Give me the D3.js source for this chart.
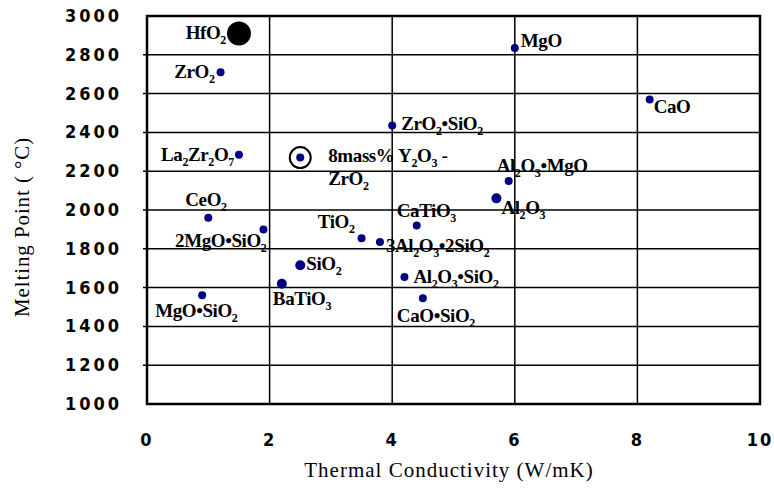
<!DOCTYPE html>
<html>
<head>
<meta charset="utf-8">
<script src="https://cdn.jsdelivr.net/npm/d3@7"></script>
<style>
  body { margin: 0; background: #fff; }
</style>
</head>
<body>
<div id="chart"></div>
<script>
// values
var materials = ["HfO_2", "ZrO_2", "ZrO_2•SiO_2", "La_2Zr_2O_7", "8mass% Y_2O_3 -|ZrO_2",
  "CeO_2", "2MgO•SiO_2", "TiO_2", "3Al_2O_3•2SiO_2", "SiO_2", "BaTiO_3", "MgO•SiO_2",
  "CaTiO_3", "Al_2O_3•SiO_2", "CaO•SiO_2", "Al_2O_3•MgO", "Al_2O_3", "MgO", "CaO"];
var conductivity = [1.5, 1.2, 4.0, 1.5, 2.5, 1.0, 1.9, 3.5, 3.8, 2.5, 2.2, 0.9,
  4.4, 4.2, 4.5, 5.9, 5.7, 6.0, 8.2];
var meltingPoint = [2910, 2710, 2435, 2285, 2270, 1960, 1900, 1855, 1835, 1715, 1620, 1560,
  1920, 1655, 1545, 2150, 2060, 2835, 2570];
var xTicks = [0, 2, 4, 6, 8, 10];
var yTicks = [1000, 1200, 1400, 1600, 1800, 2000, 2200, 2400, 2600, 2800, 3000];

var width = 774;
var height = 488;
var margin = { left: 147, top: 16, right: 14, bottom: 84 };

// label placement relative to each dot: [dx, dy, anchor]
var labelPos = [
  [-13, 6, "end"], [-6, 6, "end"], [9, 4, "start"], [-5, 6, "end"], [28, 4, "start"],
  [-23, -12, "start"], [3, 18, "end"], [-7, -10, "end"], [6, 10, "start"], [6, 5, "start"],
  [-9, 21, "start"], [-47, 22, "start"], [-20, -9, "start"], [9, 6, "start"], [-26, 24, "start"],
  [-12, -9, "start"], [5, 16, "start"], [6, -1, "start"], [4, 14, "start"]
];
var bigDots = ["SiO_2", "BaTiO_3", "Al_2O_3"];

var svg = d3
  .select("#chart")
  .append("svg")
  .attr("width", width)
  .attr("height", height);

var x = d3.scaleLinear().domain([0, 10]).range([margin.left, width - margin.right]);
var y = d3.scaleLinear().domain([1000, 3000]).range([height - margin.bottom, margin.top]);

// grid
svg.selectAll(".vgrid")
  .data(xTicks.slice(1, -1))
  .enter()
  .append("line")
  .attr("x1", (d) => x(d)).attr("x2", (d) => x(d))
  .attr("y1", y(1000)).attr("y2", y(3000))
  .style("stroke", "#000").style("stroke-width", 1.5);

svg.selectAll(".hgrid")
  .data(yTicks.slice(1, -1))
  .enter()
  .append("line")
  .attr("x1", x(0) - 4).attr("x2", x(10))
  .attr("y1", (d) => y(d)).attr("y2", (d) => y(d))
  .style("stroke", "#000").style("stroke-width", 1.5);

// frame
svg.append("rect")
  .attr("x", x(0)).attr("y", y(3000))
  .attr("width", x(10) - x(0)).attr("height", y(1000) - y(3000))
  .style("fill", "none").style("stroke", "#000").style("stroke-width", 2.5);

// tick labels
var tickFont = "'Liberation Sans Narrow', 'DejaVu Sans Condensed', 'Liberation Sans', sans-serif";
svg.selectAll(".ylab")
  .data(yTicks)
  .enter()
  .append("text")
  .attr("x", x(0) - 25)
  .attr("y", (d) => y(d) + 6)
  .attr("text-anchor", "end")
  .style("font-family", tickFont)
  .style("font-weight", "bold")
  .style("font-size", "18px")
  .style("letter-spacing", "3px")
  .text((d) => d);

svg.selectAll(".xlab")
  .data(xTicks)
  .enter()
  .append("text")
  .attr("x", (d) => x(d))
  .attr("y", 446)
  .attr("text-anchor", "middle")
  .style("font-family", tickFont)
  .style("font-weight", "bold")
  .style("font-size", "18px")
  .style("letter-spacing", "2px")
  .text((d) => d);

// axis titles
svg.append("text")
  .attr("x", 449)
  .attr("y", 477)
  .attr("text-anchor", "middle")
  .style("font-family", "'Liberation Serif', serif")
  .style("font-size", "21px")
  .style("letter-spacing", "1px")
  .text("Thermal Conductivity (W/mK)");

svg.append("text")
  .attr("transform", "translate(29,227) rotate(-90)")
  .attr("text-anchor", "middle")
  .style("font-family", "'Liberation Serif', serif")
  .style("font-size", "21px")
  .style("letter-spacing", "0.9px")
  .text("Melting Point ( °C)");

// HfO2 big marker, 8mass% ring
svg.append("circle")
  .attr("cx", x(conductivity[0])).attr("cy", y(meltingPoint[0]))
  .attr("r", 12).style("fill", "#000");

svg.append("circle")
  .attr("cx", x(conductivity[4])).attr("cy", y(meltingPoint[4]))
  .attr("r", 10.5).style("fill", "none").style("stroke", "#000").style("stroke-width", 2);

svg.selectAll(".dot")
  .data(d3.range(1, materials.length))
  .enter()
  .append("circle")
  .attr("cx", (i) => x(conductivity[i]))
  .attr("cy", (i) => y(meltingPoint[i]))
  .attr("r", (i) => (bigDots.indexOf(materials[i]) >= 0 ? 5 : 4))
  .style("fill", "#000080");

// labels with subscripts
function addLabel(i) {
  var px = x(conductivity[i]) + labelPos[i][0];
  var py = y(meltingPoint[i]) + labelPos[i][1];
  var lines = materials[i].split("|");
  lines.forEach(function (line, li) {
    var t = svg.append("text")
      .attr("x", px)
      .attr("y", py + li * 23)
      .attr("text-anchor", labelPos[i][2])
      .style("font-family", "'Liberation Serif', serif")
      .style("font-weight", "bold")
      .style("font-size", "19px")
      .style("letter-spacing", "-0.4px");
    var parts = line.split(/(_\d)/);
    var sub = false;
    parts.forEach(function (p) {
      if (p === "") return;
      if (p[0] === "_") {
        t.append("tspan").attr("dy", 5).style("font-size", "12px").text(p.slice(1));
        sub = true;
      } else {
        var s = t.append("tspan").text(p);
        if (sub) s.attr("dy", -5);
        sub = false;
      }
    });
  });
}
materials.forEach(function (m, i) { addLabel(i); });
</script>
</body>
</html>
